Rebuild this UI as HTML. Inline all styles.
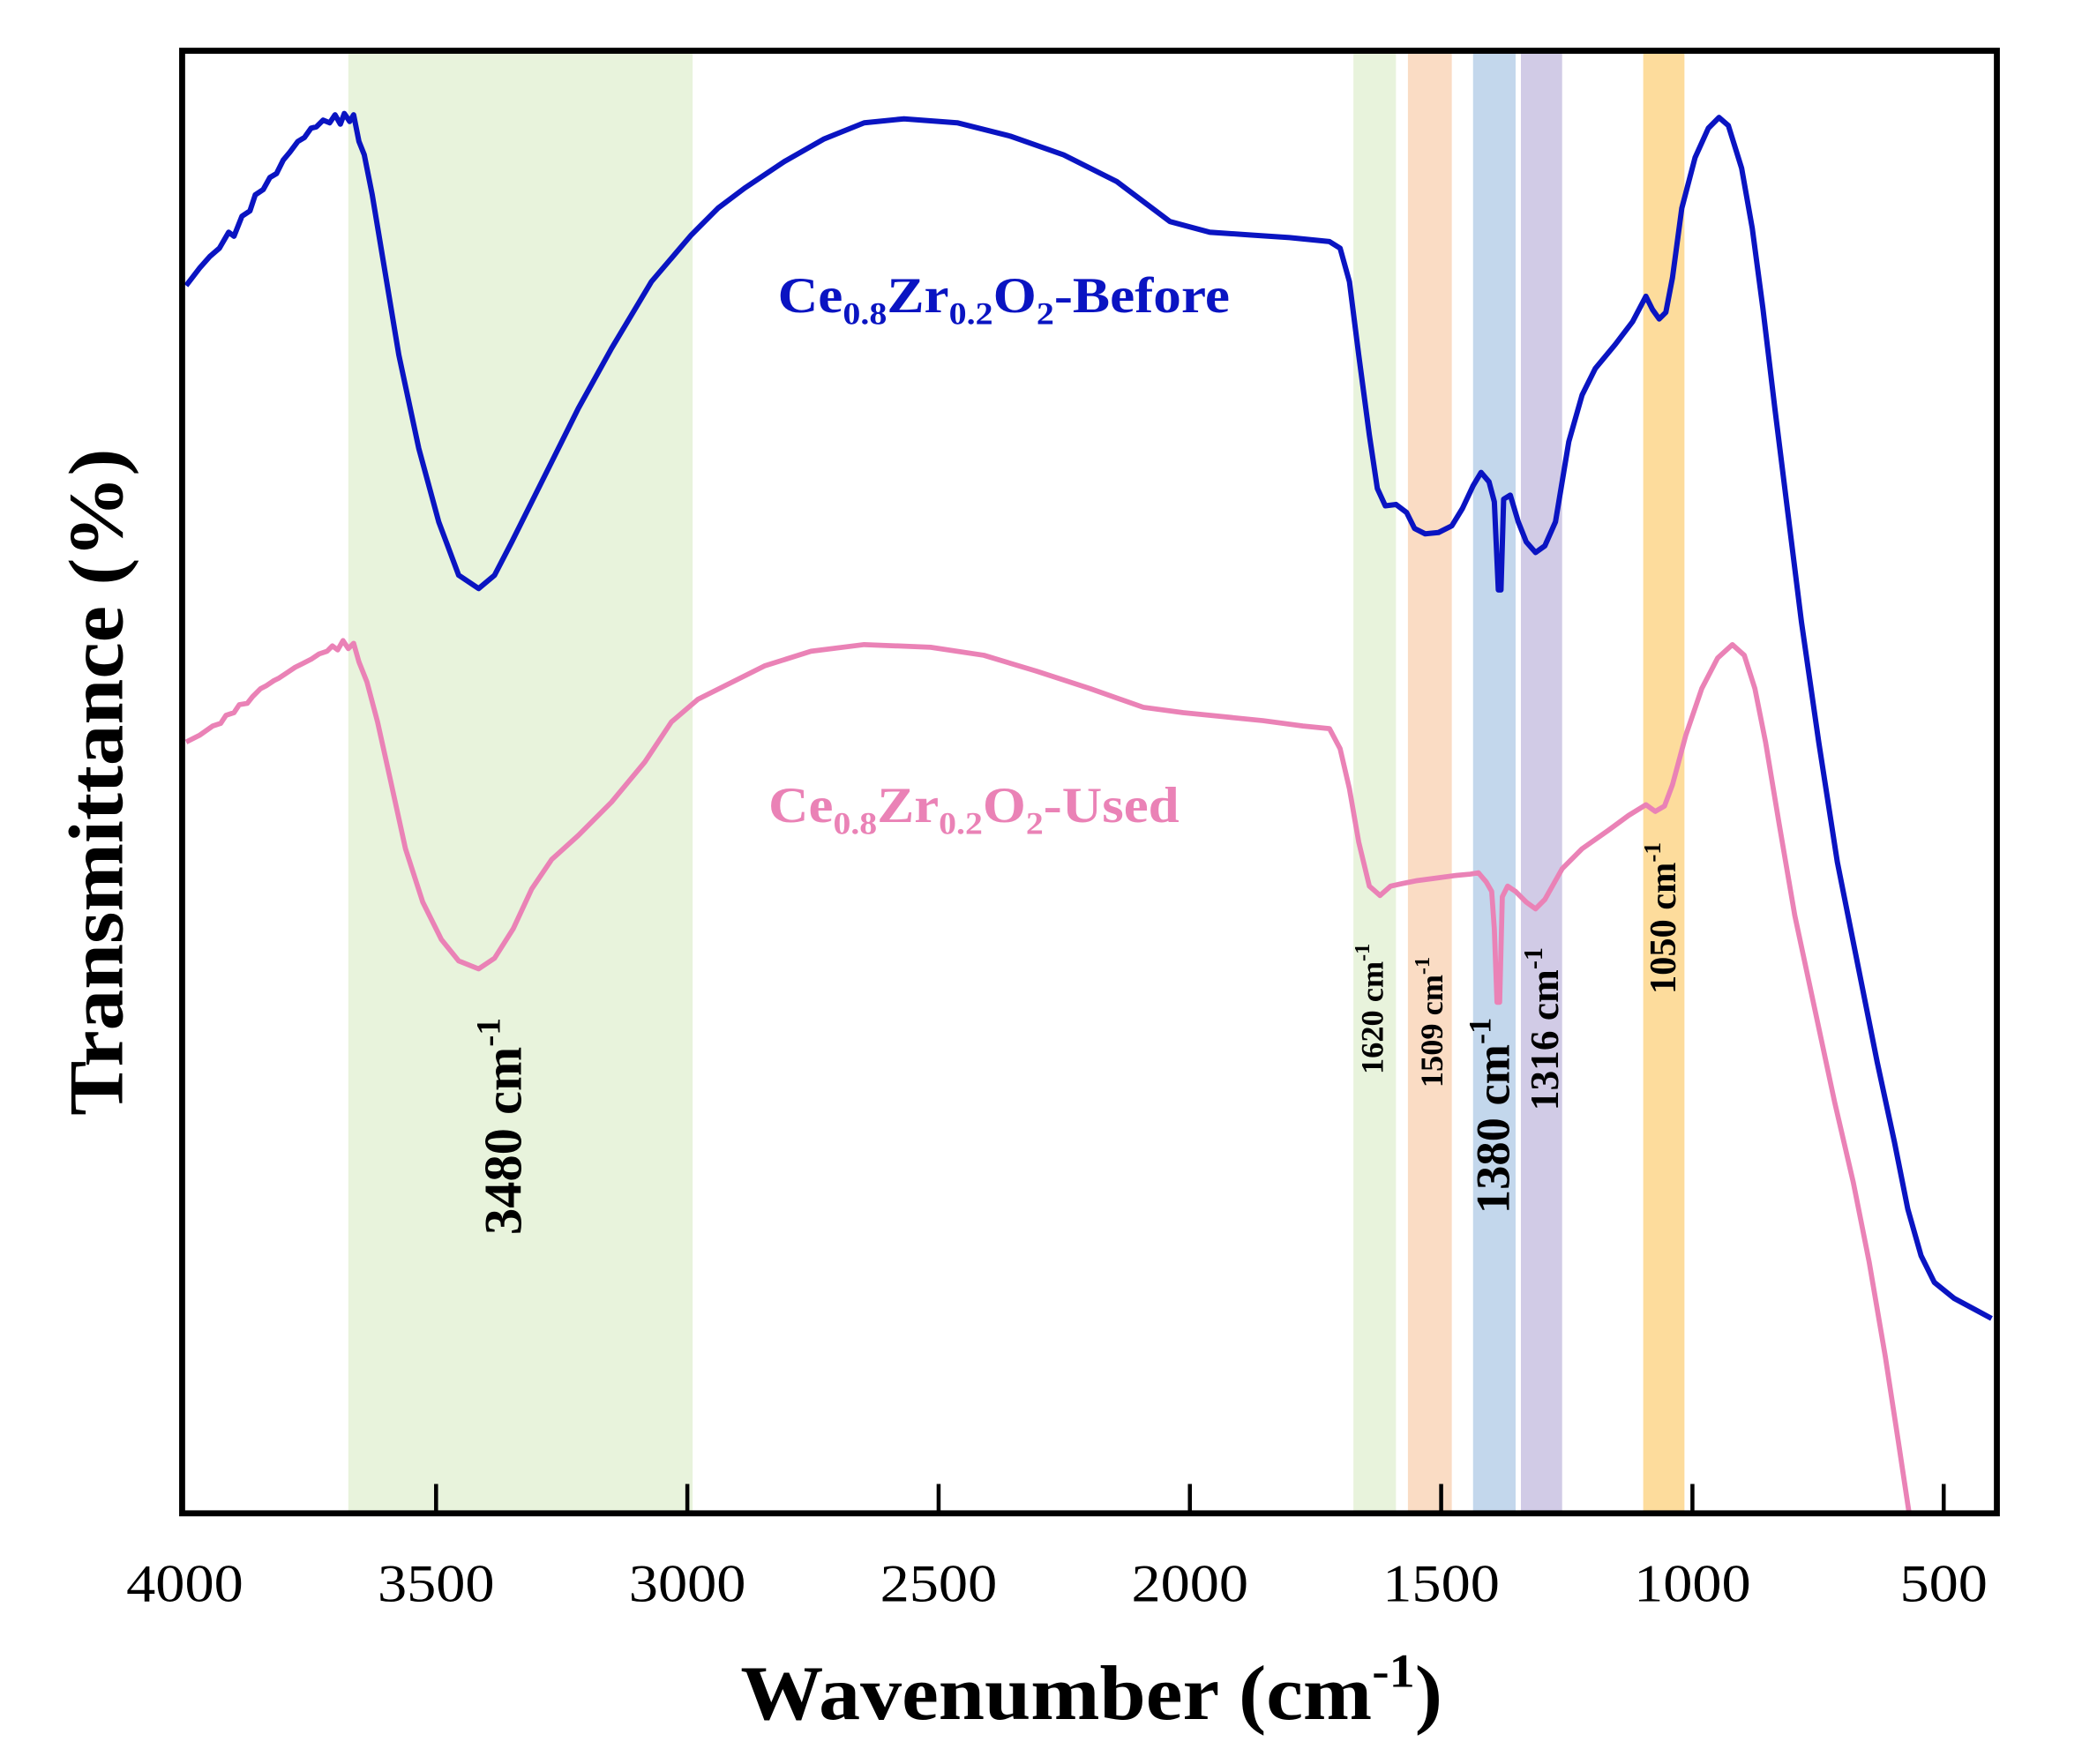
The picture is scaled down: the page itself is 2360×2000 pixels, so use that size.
<!DOCTYPE html>
<html><head><meta charset="utf-8"><style>html,body{margin:0;padding:0;background:#fff;}svg{display:block}</style></head>
<body>
<svg width="2360" height="2000" viewBox="0 0 2360 2000" xmlns="http://www.w3.org/2000/svg" font-family="'Liberation Serif', serif">
<g transform="translate(0,-6) scale(1.507,1.513)">
  <!-- bands -->
  <rect x="262" y="42" width="259" height="1096" fill="#e8f3dc"/>
  <rect x="1018" y="42" width="32" height="1096" fill="#e8f3dc"/>
  <rect x="1059" y="42" width="33" height="1096" fill="#fadcc4"/>
  <rect x="1108" y="42" width="32" height="1096" fill="#c3d7ec"/>
  <rect x="1144" y="42" width="31" height="1096" fill="#d1cbe6"/>
  <rect x="1236" y="42" width="31" height="1096" fill="#fddc9c"/>

  <!-- blue curve -->
  <polyline fill="none" stroke="#0a14c2" stroke-width="4" stroke-linejoin="round" points="140,218 150,205 158,196 165,190 172,178 176,181 182,166 188,162 192,150 198,146 203,137 208,134 213,124 218,118 224,110 229,107 234,100 238,99 243,94 248,96 252,90 256,97 259,89 263,95 266,90 270,110 274,120 280,150 290,210 300,270 315,340 330,395 345,435 360,445 372,435 385,410 400,380 415,350 435,310 460,265 490,215 520,180 540,160 560,145 590,125 620,108 650,96 680,93 720,96 760,106 800,120 840,140 880,170 910,178 940,180 970,182 1000,185 1008,190 1015,215 1022,270 1030,330 1036,370 1042,383 1050,382 1058,388 1064,400 1072,404 1082,403 1092,398 1100,385 1108,368 1114,358 1120,365 1124,380 1127,446 1129,446 1131,378 1136,375 1142,395 1148,410 1155,418 1162,413 1170,395 1180,335 1190,300 1200,280 1215,262 1228,245 1238,226 1243,236 1248,243 1253,238 1258,212 1265,160 1275,122 1285,100 1293,92 1300,98 1310,130 1318,175 1326,235 1335,310 1345,390 1355,470 1368,560 1382,650 1398,730 1412,800 1425,860 1435,910 1445,945 1455,965 1470,977 1485,985 1498,992"/>

  <!-- pink curve -->
  <polyline fill="none" stroke="#ea82b6" stroke-width="3.8" stroke-linejoin="round" points="140,560 150,555 160,548 166,546 170,540 176,538 180,532 186,531 190,526 196,520 200,518 206,514 210,512 216,508 222,504 228,501 234,498 240,494 246,492 250,488 254,491 258,484 262,490 266,486 270,500 276,515 284,545 294,590 305,640 318,680 332,708 345,724 360,730 372,722 386,700 400,670 415,648 435,630 460,605 485,575 505,545 525,528 545,518 575,503 610,492 650,487 700,489 740,495 780,507 820,520 860,534 890,538 920,541 950,544 980,548 1000,550 1008,565 1015,595 1022,635 1030,668 1038,675 1046,668 1055,666 1065,664 1080,662 1095,660 1106,659 1112,658 1118,665 1122,672 1124,700 1126,755 1128,755 1130,676 1134,668 1140,672 1148,680 1155,685 1162,678 1175,655 1190,640 1210,626 1225,615 1238,607 1245,612 1252,608 1258,592 1268,555 1280,520 1292,497 1303,487 1312,495 1320,520 1328,560 1338,620 1350,690 1365,760 1380,830 1394,890 1406,950 1418,1020 1428,1085 1436,1138"/>

  <!-- frame -->
  <rect x="137" y="42" width="1365" height="1096" fill="none" stroke="#000" stroke-width="4.5"/>
  <g stroke="#000" stroke-width="3">
    <line x1="328" y1="1138" x2="328" y2="1116"/>
    <line x1="517" y1="1138" x2="517" y2="1116"/>
    <line x1="706" y1="1138" x2="706" y2="1116"/>
    <line x1="895" y1="1138" x2="895" y2="1116"/>
    <line x1="1084" y1="1138" x2="1084" y2="1116"/>
    <line x1="1273" y1="1138" x2="1273" y2="1116"/>
    <line x1="1462" y1="1138" x2="1462" y2="1116"/>
  </g>
  <g font-size="40" text-anchor="middle" fill="#000" lengthAdjust="spacingAndGlyphs">
    <text x="139" y="1204" textLength="88" lengthAdjust="spacingAndGlyphs">4000</text>
    <text x="328" y="1204" textLength="88" lengthAdjust="spacingAndGlyphs">3500</text>
    <text x="517" y="1204" textLength="88" lengthAdjust="spacingAndGlyphs">3000</text>
    <text x="706" y="1204" textLength="88" lengthAdjust="spacingAndGlyphs">2500</text>
    <text x="895" y="1204" textLength="88" lengthAdjust="spacingAndGlyphs">2000</text>
    <text x="1084" y="1204" textLength="88" lengthAdjust="spacingAndGlyphs">1500</text>
    <text x="1273" y="1204" textLength="88" lengthAdjust="spacingAndGlyphs">1000</text>
    <text x="1462" y="1204" textLength="66" lengthAdjust="spacingAndGlyphs">500</text>
  </g>
  <text x="821" y="1292" font-size="58" font-weight="bold" text-anchor="middle" textLength="528" lengthAdjust="spacingAndGlyphs">Wavenumber (cm<tspan font-size="36" dy="-24">-1</tspan><tspan dy="24">)</tspan></text>
  <text transform="translate(92,590) rotate(-90)" font-size="58" font-weight="bold" text-anchor="middle" textLength="500" lengthAdjust="spacingAndGlyphs">Transmittance (%)</text>

  <!-- series labels -->
  <text x="585" y="238" font-size="38" font-weight="bold" fill="#0a14c2" textLength="340" lengthAdjust="spacingAndGlyphs">Ce<tspan font-size="24" dy="9">0.8</tspan><tspan dy="-9">Zr</tspan><tspan font-size="24" dy="9">0.2</tspan><tspan dy="-9">O</tspan><tspan font-size="24" dy="9">2</tspan><tspan dy="-9">-Before</tspan></text>
  <text x="578" y="620" font-size="38" font-weight="bold" fill="#ea82b6" textLength="309" lengthAdjust="spacingAndGlyphs">Ce<tspan font-size="24" dy="9">0.8</tspan><tspan dy="-9">Zr</tspan><tspan font-size="24" dy="9">0.2</tspan><tspan dy="-9">O</tspan><tspan font-size="24" dy="9">2</tspan><tspan dy="-9">-Used</tspan></text>

  <!-- peak labels -->
  <g font-weight="bold" fill="#000" text-anchor="middle">
    <text transform="translate(392,848) rotate(-90)" font-size="40">3480 cm<tspan font-size="26" dy="-16">-1</tspan></text>
    <text transform="translate(1040,760) rotate(-90)" font-size="24">1620 cm<tspan font-size="16" dy="-10">-1</tspan></text>
    <text transform="translate(1085,770) rotate(-90)" font-size="24">1509 cm<tspan font-size="16" dy="-10">-1</tspan></text>
    <text transform="translate(1135,840) rotate(-90)" font-size="36">1380 cm<tspan font-size="24" dy="-14">-1</tspan></text>
    <text transform="translate(1172,775) rotate(-90)" font-size="30">1316 cm<tspan font-size="20" dy="-12">-1</tspan></text>
    <text transform="translate(1260,692) rotate(-90)" font-size="28">1050 cm<tspan font-size="18" dy="-11">-1</tspan></text>
  </g>
</g>
</svg>
</body></html>
